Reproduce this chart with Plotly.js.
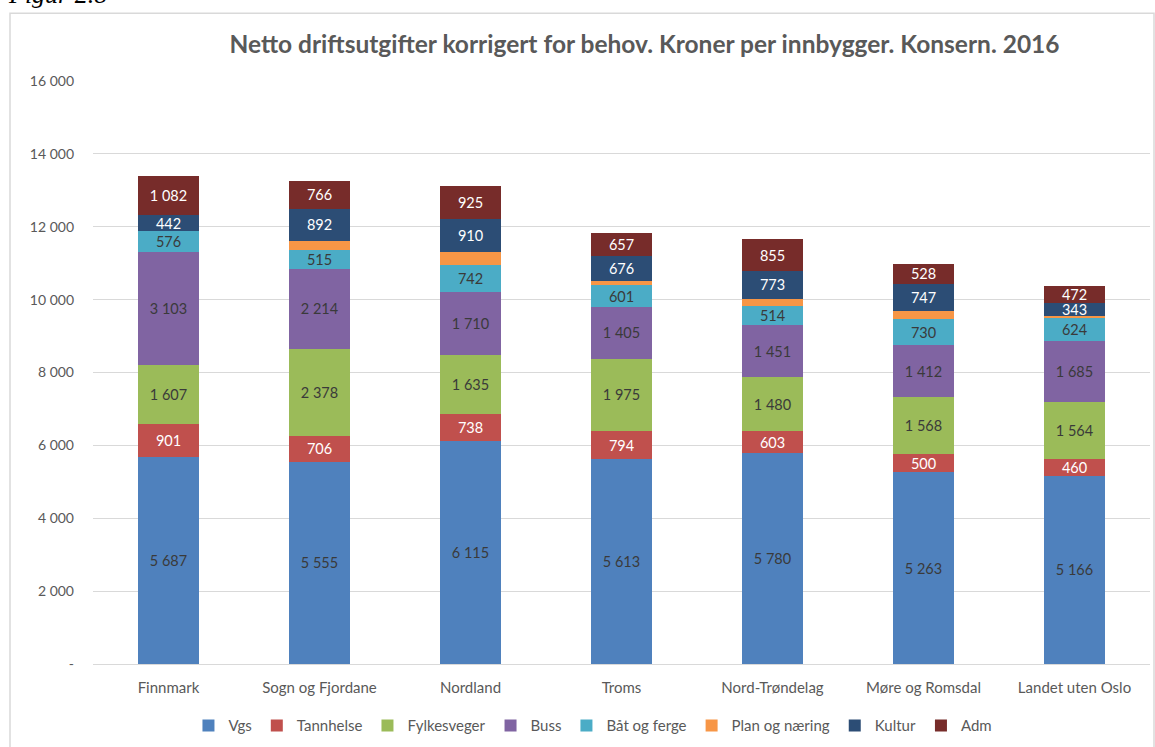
<!DOCTYPE html>
<html><head><meta charset="utf-8">
<script src="https://cdn.plot.ly/plotly-3.0.1.min.js"></script>
<style>html,body{margin:0;padding:0;background:#fff}#c{width:1155px;height:747px}</style>
</head><body><div id="c"></div>
<script>
const categories = ["Finnmark","Sogn og Fjordane","Nordland","Troms","Nord-Trøndelag","Møre og Romsdal","Landet uten Oslo"];
const vgs        = [5687, 5555, 6115, 5613, 5780, 5263, 5166];
const tannhelse  = [901, 706, 738, 794, 603, 500, 460];
const fylkesveger= [1607, 2378, 1635, 1975, 1480, 1568, 1564];
const buss       = [3103, 2214, 1710, 1405, 1451, 1412, 1685];
const batFerge   = [576, 515, 742, 601, 514, 730, 624];
const planNaering= [0, 240, 355, 120, 195, 222, 55];
const kultur     = [442, 892, 910, 676, 773, 747, 343];
const adm        = [1082, 766, 925, 657, 855, 528, 472];
const yTickVals  = [0, 2000, 4000, 6000, 8000, 10000, 12000, 14000, 16000];
const yTickText  = ["-", "2 000", "4 000", "6 000", "8 000", "10 000", "12 000", "14 000", "16 000"];

const fmt = v => String(v).replace(/\B(?=(\d{3})+(?!\d))/g, "\u00a0");
const FONT = "Lato, 'Open Sans', sans-serif";
const series = [
  {name:"Vgs", y:vgs, color:"#4F81BD", tc:"#3a3a3a", label:true},
  {name:"Tannhelse", y:tannhelse, color:"#C0504D", tc:"#ffffff", label:true},
  {name:"Fylkesveger", y:fylkesveger, color:"#9BBB59", tc:"#3a3a3a", label:true},
  {name:"Buss", y:buss, color:"#8064A2", tc:"#3a3a3a", label:true},
  {name:"Båt og ferge", y:batFerge, color:"#4BACC6", tc:"#3a3a3a", label:true},
  {name:"Plan og næring", y:planNaering, color:"#F79646", tc:"#3a3a3a", label:false},
  {name:"Kultur", y:kultur, color:"#2C4D75", tc:"#ffffff", label:true},
  {name:"Adm", y:adm, color:"#772C2A", tc:"#ffffff", label:true}
];
const traces = series.map(s => ({
  type:"bar", name:s.name, x:categories, y:s.y,
  marker:{color:s.color, line:{width:0}},
  text: s.label ? s.y.map(fmt) : s.y.map(()=> ""),
  textposition:"inside", insidetextanchor:"middle", constraintext:"none",
  textfont:{family:FONT, size:14.5, color:s.tc},
  hoverinfo:"name+y"
}));
const px2x = p => (p-93)/1057, px2y = p => (666-p)/585;
const layout = {
  width:1155, height:747, barmode:"stack", bargap:0.595,
  margin:{l:93, r:5, t:81, b:81},
  paper_bgcolor:"#fff", plot_bgcolor:"#fff",
  font:{family:FONT, color:"#595959", size:13},
  title:{text:"<b>Netto driftsutgifter korrigert for behov. Kroner per innbygger. Konsern. 2016</b>",
    font:{family:FONT, size:24.5, color:"#595959"}, x:0.558, xanchor:"center", y:0.94, yanchor:"middle"},
  uniformtext:{mode:"show", minsize:14.5},
  xaxis:{showgrid:false, showline:true, linecolor:"#D9D9D9", linewidth:1, ticks:"",
    tickfont:{family:FONT, size:15, color:"#595959"}, ticklabelstandoff:10},
  yaxis:{range:[0,16000], tickvals:yTickVals, ticktext:yTickText, showgrid:true, gridcolor:"#D9D9D9",
    zeroline:false, showline:false, ticks:"", tickfont:{family:FONT, size:14, color:"#595959"}, ticklabelstandoff:18},
  legend:{orientation:"h", x:0.473, xanchor:"center", y:px2y(728), yanchor:"middle",
    font:{family:FONT, size:15, color:"#595959"}, traceorder:"normal", itemwidth:30},
  showlegend:true,
  shapes:[{type:"rect", xref:"paper", yref:"paper", x0:px2x(10), x1:px2x(1154), y0:px2y(780), y1:px2y(13),
    line:{color:"#D9D9D9", width:1.5}, fillcolor:"rgba(0,0,0,0)", layer:"below"}],
  annotations:[{xref:"paper", yref:"paper", x:px2x(6), y:px2y(11), xanchor:"left", yanchor:"bottom",
    text:"<i>Figur 2.8</i>", showarrow:false, font:{family:"'Liberation Serif', serif", size:26, color:"#000"}}]
};
Plotly.newPlot("c", traces, layout, {displayModeBar:false, staticPlot:true});
</script></body></html>
